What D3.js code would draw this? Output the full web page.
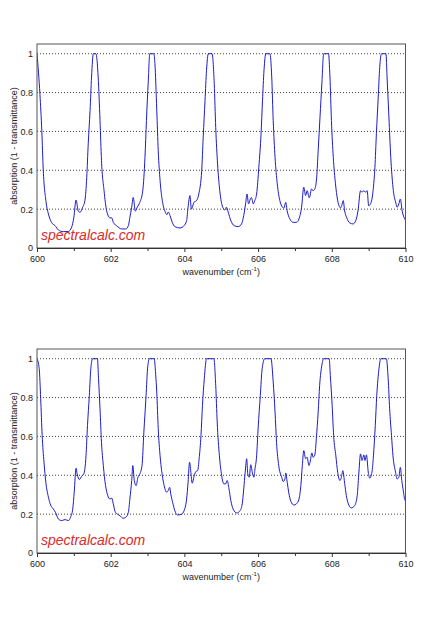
<!DOCTYPE html>
<html>
<head>
<meta charset="utf-8">
<script src="https://cdn.jsdelivr.net/npm/d3@7"></script>
<style>
  body { margin: 0; background: #fff; }
  svg { display: block; font-family: "Liberation Sans", Arial, sans-serif; }
</style>
</head>
<body>
<svg width="437" height="640"></svg>
<script>
// wavenumber / absorption
const waveTop = [
  600.00, 600.08, 600.13, 600.17, 600.24, 600.31, 600.40, 600.49, 600.58, 600.71,
  600.85, 600.94, 601.00, 601.06, 601.12, 601.17, 601.24, 601.30, 601.35, 601.39,
  601.44, 601.48, 601.53, 601.60, 601.66, 601.71, 601.75, 601.82, 601.89, 601.98,
  602.03, 602.07, 602.16, 602.30, 602.41, 602.48, 602.52, 602.57, 602.61, 602.67,
  602.72, 602.79, 602.87, 602.93, 602.97, 603.02, 603.06, 603.17, 603.20, 603.25,
  603.29, 603.34, 603.40, 603.47, 603.53, 603.56, 603.61, 603.67, 603.74, 603.88,
  603.99, 604.06, 604.10, 604.15, 604.19, 604.26, 604.33, 604.39, 604.47, 604.51,
  604.56, 604.60, 604.65, 604.75, 604.81, 604.85, 604.90, 604.96, 605.04, 605.10,
  605.14, 605.19, 605.26, 605.35, 605.46, 605.55, 605.61, 605.66, 605.70, 605.74,
  605.79, 605.82, 605.87, 605.91, 605.96, 606.02, 606.08, 606.12, 606.16, 606.21,
  606.32, 606.37, 606.41, 606.46, 606.52, 606.59, 606.66, 606.70, 606.75, 606.79,
  606.86, 606.95, 607.04, 607.11, 607.18, 607.24, 607.29, 607.33, 607.39, 607.45,
  607.49, 607.54, 607.59, 607.63, 607.68, 607.73, 607.78, 607.91, 607.95, 607.99,
  608.04, 608.10, 608.17, 608.24, 608.27, 608.31, 608.35, 608.40, 608.49, 608.58,
  608.65, 608.71, 608.78, 608.82, 608.87, 608.91, 608.96, 609.00, 609.05, 609.12,
  609.17, 609.21, 609.26, 609.30, 609.35, 609.47, 609.50, 609.55, 609.60, 609.66,
  609.74, 609.77, 609.82, 609.86, 609.91, 609.98, 610.00
];
const absTop = [
  1.000, 0.790, 0.605, 0.400, 0.245, 0.175, 0.130, 0.115, 0.093, 0.084,
  0.085, 0.107, 0.158, 0.247, 0.190, 0.184, 0.210, 0.244, 0.364, 0.536,
  0.708, 0.880, 1.000, 1.000, 0.880, 0.656, 0.450, 0.295, 0.192, 0.155,
  0.155, 0.132, 0.115, 0.098, 0.098, 0.115, 0.158, 0.210, 0.260, 0.190,
  0.210, 0.235, 0.295, 0.467, 0.656, 0.860, 1.000, 1.000, 0.950, 0.710,
  0.500, 0.347, 0.244, 0.190, 0.172, 0.185, 0.167, 0.132, 0.110, 0.103,
  0.115, 0.141, 0.210, 0.270, 0.200, 0.235, 0.244, 0.278, 0.400, 0.570,
  0.760, 0.914, 1.000, 1.000, 0.845, 0.620, 0.433, 0.295, 0.210, 0.196,
  0.210, 0.184, 0.141, 0.115, 0.110, 0.124, 0.167, 0.227, 0.278, 0.227,
  0.252, 0.260, 0.227, 0.244, 0.278, 0.416, 0.588, 0.760, 0.914, 1.000,
  1.000, 0.880, 0.656, 0.467, 0.330, 0.244, 0.210, 0.205, 0.235, 0.190,
  0.150, 0.132, 0.132, 0.150, 0.210, 0.313, 0.270, 0.295, 0.258, 0.304,
  0.295, 0.304, 0.364, 0.500, 0.674, 0.845, 1.000, 1.000, 0.880, 0.656,
  0.467, 0.330, 0.235, 0.206, 0.218, 0.244, 0.190, 0.158, 0.129, 0.124,
  0.141, 0.190, 0.295, 0.287, 0.295, 0.287, 0.295, 0.218, 0.227, 0.295,
  0.416, 0.588, 0.777, 0.930, 1.000, 1.000, 0.880, 0.674, 0.467, 0.313,
  0.230, 0.210, 0.227, 0.252, 0.190, 0.150, 0.144
];

const waveBottom = [
  600.00, 600.06, 600.10, 600.14, 600.19, 600.24, 600.31, 600.37, 600.44, 600.50,
  600.58, 600.67, 600.76, 600.85, 600.91, 600.97, 601.01, 601.06, 601.09, 601.15,
  601.21, 601.27, 601.33, 601.37, 601.42, 601.46, 601.51, 601.64, 601.67, 601.71,
  601.75, 601.80, 601.86, 601.92, 601.98, 602.03, 602.07, 602.12, 602.18, 602.25,
  602.34, 602.41, 602.48, 602.52, 602.57, 602.60, 602.64, 602.69, 602.74, 602.79,
  602.85, 602.90, 602.96, 603.00, 603.05, 603.18, 603.22, 603.25, 603.29, 603.34,
  603.40, 603.45, 603.52, 603.56, 603.60, 603.63, 603.68, 603.74, 603.81, 603.91,
  604.00, 604.06, 604.10, 604.14, 604.18, 604.21, 604.27, 604.31, 604.36, 604.40,
  604.45, 604.49, 604.54, 604.60, 604.80, 604.85, 604.89, 604.95, 605.01, 605.07,
  605.12, 605.16, 605.21, 605.26, 605.32, 605.42, 605.51, 605.57, 605.61, 605.65,
  605.69, 605.72, 605.76, 605.80, 605.85, 605.89, 605.91, 605.96, 606.00, 606.06,
  606.11, 606.18, 606.35, 606.41, 606.46, 606.50, 606.56, 606.64, 606.68, 606.73,
  606.75, 606.79, 606.83, 606.89, 606.97, 607.04, 607.11, 607.16, 607.20, 607.24,
  607.29, 607.33, 607.38, 607.41, 607.46, 607.49, 607.54, 607.58, 607.63, 607.67,
  607.73, 607.78, 607.93, 607.96, 608.01, 608.05, 608.11, 608.16, 608.22, 608.26,
  608.30, 608.34, 608.38, 608.44, 608.53, 608.62, 608.69, 608.73, 608.78, 608.82,
  608.87, 608.90, 608.94, 608.99, 609.03, 609.09, 609.13, 609.18, 609.22, 609.28,
  609.33, 609.48, 609.53, 609.57, 609.62, 609.66, 609.73, 609.77, 609.82, 609.86,
  609.90, 609.94, 609.99, 610.00
];
const absBottom = [
  1.000, 0.948, 0.794, 0.605, 0.467, 0.364, 0.287, 0.247, 0.227, 0.210,
  0.175, 0.167, 0.172, 0.167, 0.184, 0.227, 0.313, 0.436, 0.407, 0.378,
  0.395, 0.407, 0.500, 0.656, 0.810, 0.948, 1.000, 1.000, 0.897, 0.742,
  0.570, 0.450, 0.347, 0.296, 0.278, 0.282, 0.253, 0.213, 0.200, 0.192,
  0.179, 0.184, 0.210, 0.278, 0.373, 0.450, 0.373, 0.347, 0.390, 0.407,
  0.450, 0.622, 0.810, 0.948, 1.000, 1.000, 0.920, 0.828, 0.640, 0.500,
  0.400, 0.347, 0.313, 0.321, 0.338, 0.304, 0.261, 0.218, 0.196, 0.198,
  0.222, 0.278, 0.364, 0.467, 0.407, 0.359, 0.400, 0.419, 0.424, 0.485,
  0.605, 0.759, 0.897, 1.000, 1.000, 0.862, 0.674, 0.500, 0.400, 0.356,
  0.356, 0.373, 0.330, 0.270, 0.227, 0.206, 0.218, 0.253, 0.330, 0.416,
  0.485, 0.407, 0.390, 0.454, 0.407, 0.390, 0.424, 0.500, 0.640, 0.810,
  0.948, 1.000, 1.000, 0.880, 0.725, 0.570, 0.450, 0.390, 0.368, 0.381,
  0.412, 0.364, 0.313, 0.265, 0.247, 0.253, 0.278, 0.347, 0.450, 0.527,
  0.485, 0.493, 0.450, 0.467, 0.515, 0.493, 0.505, 0.588, 0.725, 0.862,
  0.966, 1.000, 1.000, 0.914, 0.759, 0.605, 0.500, 0.416, 0.373, 0.390,
  0.424, 0.373, 0.313, 0.258, 0.232, 0.244, 0.296, 0.400, 0.510, 0.476,
  0.505, 0.476, 0.505, 0.416, 0.385, 0.416, 0.500, 0.656, 0.810, 0.948,
  1.000, 1.000, 0.897, 0.742, 0.605, 0.500, 0.416, 0.381, 0.390, 0.441,
  0.373, 0.321, 0.270, 0.273
];

const xTicksMajor = [600, 602, 604, 606, 608, 610];
const xTicksMinor = [601, 603, 605, 607, 609];
const yTicks = [0, 0.2, 0.4, 0.6, 0.8, 1];

const svg = d3.select("svg"),
  left = 37,
  right = 405.5,
  panelHeight = 204,
  lineColor = "#1c1cc8";

const x = d3.scaleLinear().domain([600, 610]).range([left, right]);

function drawPanel(top, waves, values, id) {
  const bottom = top + panelHeight;
  const y = d3.scaleLinear().domain([0, 1.05]).range([bottom, top]);
  const g = svg.append("g");

  // dotted grid
  g.selectAll(".grid")
    .data(yTicks.filter((d) => d > 0))
    .enter()
    .append("line")
    .attr("x1", left)
    .attr("x2", right)
    .attr("y1", (d) => y(d))
    .attr("y2", (d) => y(d))
    .style("stroke", "#444")
    .style("stroke-width", 1)
    .style("stroke-dasharray", "1,2");

  g.append("clipPath")
    .attr("id", id)
    .append("rect")
    .attr("x", left)
    .attr("y", top)
    .attr("width", right - left)
    .attr("height", panelHeight);

  const line = d3
    .line()
    .x((d, i) => x(waves[i]))
    .y((d) => y(d))
    .curve(d3.curveMonotoneX);

  g.append("path")
    .datum(values)
    .attr("clip-path", `url(#${id})`)
    .attr("d", line)
    .style("fill", "none")
    .style("stroke", lineColor)
    .style("stroke-width", 1);

  // frame
  g.append("rect")
    .attr("x", left)
    .attr("y", top)
    .attr("width", right - left)
    .attr("height", panelHeight)
    .style("fill", "none")
    .style("stroke", "#555")
    .style("stroke-width", 1);

  const xAxis = g
    .append("g")
    .attr("transform", `translate(0,${bottom})`)
    .call(
      d3.axisBottom(x).tickValues(xTicksMajor).tickSize(4).tickSizeOuter(0).tickPadding(4)
        .tickFormat(d3.format("d"))
    );
  g.append("g")
    .attr("transform", `translate(0,${bottom})`)
    .call(d3.axisBottom(x).tickValues(xTicksMinor).tickSize(3).tickSizeOuter(0).tickFormat(""))
    .call((s) => s.select(".domain").remove());

  const yAxis = g
    .append("g")
    .attr("transform", `translate(${left},0)`)
    .call(d3.axisLeft(y).tickValues(yTicks).tickSize(0).tickPadding(4).tickFormat((d) => d3.format("")(+d.toFixed(1))));
  yAxis.select(".domain").remove();

  [xAxis, yAxis].forEach((a) => {
    a.selectAll("text").style("font-size", "9px").style("fill", "#222");
  });
  g.selectAll(".tick line").style("stroke", "#333");
  xAxis.select(".domain").style("stroke", "#333");

  const xTitle = g
    .append("text")
    .attr("x", (left + right) / 2)
    .attr("y", bottom + 27)
    .attr("text-anchor", "middle")
    .style("font-size", "9px")
    .style("fill", "#222")
    .text("wavenumber (cm");
  xTitle.append("tspan").attr("dy", -4).style("font-size", "6px").text("-1");
  xTitle.append("tspan").attr("dy", 4).text(")");

  g.append("text")
    .attr("transform", `translate(17,${(top + bottom) / 2}) rotate(-90)`)
    .attr("text-anchor", "middle")
    .style("font-size", "9px")
    .style("fill", "#222")
    .text("absorption (1 - transmittance)");

  g.append("text")
    .attr("x", left + 4)
    .attr("y", bottom - 8)
    .style("font-size", "14px")
    .style("font-style", "italic")
    .style("fill", "#d92b2b")
    .text("spectralcalc.com");
}

drawPanel(44, waveTop, absTop, "clipTop");
drawPanel(349, waveBottom, absBottom, "clipBottom");
</script>
</body>
</html>
